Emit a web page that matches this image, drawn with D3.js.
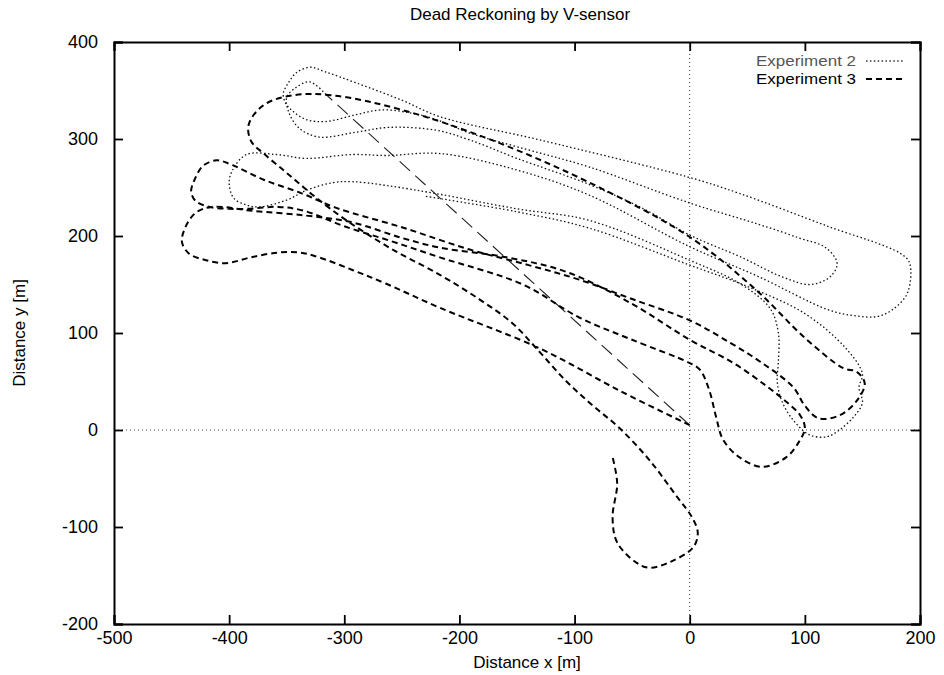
<!DOCTYPE html>
<html>
<head>
<meta charset="utf-8">
<script src="https://cdn.jsdelivr.net/npm/d3@7"></script>
<style>
  html, body { margin: 0; padding: 0; background: #fff; }
  svg { display: block; font-family: "Liberation Sans", Arial, Helvetica, sans-serif; }
</style>
</head>
<body>
<svg id="chart" width="944" height="675"></svg>
<script>
// ---------------- data ----------------
const xTicks = [-500, -400, -300, -200, -100, 0, 100, 200];
const yTicks = [-200, -100, 0, 100, 200, 300, 400];
const seriesNames = ["Experiment 2", "Experiment 3"];

// Experiment 2: initial straight link from the origin
const exp2Link = [[0, 5], [-316, 346]];

// Experiment 2 trajectory [x, y] in metres
const exp2 = [
  [-316, 346],
  [-330, 359], [-342, 353], [-350, 343], [-348, 327], [-339, 311], [-322, 302], [-290, 307], [-261, 312], [-220, 309], [-191, 299],
  [-150, 280], [-87, 253], [-40, 228], [0, 201], [45, 178], [80, 158],
  [105, 150], [122, 158], [128, 172], [118, 188], [95, 198], [60, 212],
  [0, 234], [-87, 271], [-150, 292], [-191, 306],
  [-220, 320], [-243, 327], [-268, 330], [-290, 325], [-316, 318], [-333, 320], [-344, 328], [-351, 337], [-353, 347], [-349, 357], [-342, 368], [-330, 374],
  [-316, 369], [-290, 358], [-250, 340], [-217, 323], [-130, 299], [-2, 261], [43, 244], [120, 210], [183, 182],
  [191, 172], [189, 141], [176, 124], [163, 117], [142, 118], [120, 124],
  [60, 158], [0, 189], [-87, 242], [-150, 268], [-217, 285],
  [-263, 283], [-293, 284], [-333, 280], [-359, 284], [-385, 284], [-397, 268], [-400, 255], [-396, 239], [-385, 232], [-374, 230], [-350, 237], [-333, 247], [-310, 255], [-293, 256], [-263, 252], [-217, 243],
  [-150, 228], [-87, 216], [0, 175], [45, 150], [70, 125], [77, 100], [77, 70], [76, 50], [80, 30], [90, 10], [104, -5], [119, -7], [130, 0], [142, 13], [150, 28], [147, 44], [150, 58],
  [135, 85], [100, 120], [50, 148], [0, 170], [-87, 208], [-150, 225], [-230, 241]
];

// Experiment 3 trajectory [x, y] in metres
const exp3 = [
  [0, 5],
  [-60, 40], [-130, 84], [-217, 126], [-264, 151], [-293, 165], [-322, 178], [-339, 183], [-357, 183], [-381, 178], [-403, 172], [-420, 175], [-435, 182], [-441, 194], [-438, 209], [-429, 224], [-415, 230],
  [-380, 226], [-333, 221], [-293, 214], [-250, 198], [-217, 188], [-159, 178], [-107, 163], [-50, 130], [0, 93], [38, 69], [67, 45], [85, 28], [96, 15],
  [100, 2], [95, -12], [84, -28], [63, -38], [43, -28], [29, -10], [23, 13], [17, 41], [9, 62], [0, 69],
  [-50, 93], [-96, 116], [-145, 150], [-217, 178], [-260, 195], [-300, 210], [-335, 226],
  [-357, 230], [-385, 228], [-400, 228], [-417, 230], [-429, 236], [-433, 246], [-430, 258], [-423, 272], [-411, 278], [-397, 273],
  [-370, 258], [-337, 244], [-307, 229], [-250, 209], [-191, 186], [-140, 170], [-96, 155], [-50, 135], [0, 113], [35, 90], [63, 69], [90, 44], [100, 25],
  [112, 12], [130, 15], [145, 30], [152, 48], [145, 60], [133, 64],
  [100, 95], [58, 144], [0, 199], [-87, 255], [-170, 298], [-250, 330], [-310, 345], [-345, 345], [-370, 335], [-383, 315], [-381, 298], [-370, 285], [-355, 270], [-340, 255], [-325, 240],
  [-298, 216], [-258, 186], [-217, 160], [-183, 135], [-154, 110], [-130, 80], [-107, 50], [-84, 25], [-61, 2], [-35, -31], [-11, -69], [2, -90], [7, -106], [3, -121], [-17, -136], [-35, -142], [-46, -137], [-63, -116], [-67, -90], [-63, -55], [-67, -28]
];

// ---------------- chart ----------------
const svg = d3.select("#chart");
const mLeft = 114, mRight = 920, mTop = 42, mBottom = 624;

const x = d3.scaleLinear().domain([-500, 200]).range([mLeft, mRight]);
const y = d3.scaleLinear().domain([-200, 400]).range([mBottom, mTop]);

// zero lines
svg.append("line")
  .attr("x1", x(0)).attr("x2", x(0)).attr("y1", mTop).attr("y2", mBottom)
  .attr("stroke", "#444").attr("stroke-width", 1).attr("stroke-dasharray", "1,3");
svg.append("line")
  .attr("x1", mLeft).attr("x2", mRight).attr("y1", y(0)).attr("y2", y(0))
  .attr("stroke", "#444").attr("stroke-width", 1).attr("stroke-dasharray", "1,3");

// trajectories
const line = d3.line()
  .x(d => x(d[0])).y(d => y(d[1]))
  .curve(d3.curveCatmullRom.alpha(0.5));

svg.append("path").datum(exp2Link)
  .attr("d", line).attr("fill", "none")
  .attr("stroke", "#222").attr("stroke-width", 1.1)
  .attr("stroke-dasharray", "14,7");

svg.append("path").datum(exp2)
  .attr("d", line).attr("fill", "none")
  .attr("stroke", "#111").attr("stroke-width", 1.3)
  .attr("stroke-dasharray", "1.5,2.4");

svg.append("path").datum(exp3)
  .attr("d", line).attr("fill", "none")
  .attr("stroke", "#000").attr("stroke-width", 2)
  .attr("stroke-dasharray", "6,4");

// axes
const fmt = d => String(d);
const gx = svg.append("g").attr("transform", `translate(0,${mBottom})`)
  .call(d3.axisBottom(x).tickValues(xTicks).tickSize(-9).tickPadding(7).tickFormat(fmt));
const gxTop = svg.append("g").attr("transform", `translate(0,${mTop})`)
  .call(d3.axisTop(x).tickValues(xTicks).tickSize(-9).tickFormat(""));
const gy = svg.append("g").attr("transform", `translate(${mLeft},0)`)
  .call(d3.axisLeft(y).tickValues(yTicks).tickSize(-9).tickPadding(16).tickFormat(fmt));
const gyRight = svg.append("g").attr("transform", `translate(${mRight},0)`)
  .call(d3.axisRight(y).tickValues(yTicks).tickSize(-9).tickFormat(""));

[gx, gxTop, gy, gyRight].forEach(g => {
  g.select(".domain").attr("stroke", "#000").attr("stroke-width", 2);
  g.selectAll(".tick line").attr("stroke", "#000").attr("stroke-width", 1.8);
  g.selectAll(".tick text").attr("fill", "#000").style("font-size", "18px")
    .style("font-family", "'Liberation Sans', Arial, sans-serif");
});

// titles
svg.append("text").attr("x", 520).attr("y", 20).attr("text-anchor", "middle")
  .style("font-size", "17px").attr("fill", "#000").text("Dead Reckoning by V-sensor");
svg.append("text").attr("x", 527).attr("y", 668).attr("text-anchor", "middle")
  .style("font-size", "17px").attr("fill", "#000").text("Distance x [m]");
svg.append("text").attr("transform", "translate(25,333) rotate(-90)").attr("text-anchor", "middle")
  .style("font-size", "17px").attr("fill", "#000").text("Distance y [m]");

// legend
const legendStyles = [
  { w: 1.3, dash: "1.5,2.4", color: "#333" },
  { w: 2, dash: "6,4", color: "#000" }
];
seriesNames.forEach((name, i) => {
  const ly = 61 + i * 18;
  svg.append("text").attr("x", 856).attr("y", ly + 5).attr("text-anchor", "end")
    .style("font-size", "15px").attr("textLength", 100).attr("lengthAdjust", "spacingAndGlyphs")
    .attr("fill", i === 0 ? "#555" : "#000").text(name);
  svg.append("line").attr("x1", 866).attr("x2", 905).attr("y1", ly).attr("y2", ly)
    .attr("stroke", legendStyles[i].color).attr("stroke-width", legendStyles[i].w)
    .attr("stroke-dasharray", legendStyles[i].dash);
});
</script>
</body>
</html>
